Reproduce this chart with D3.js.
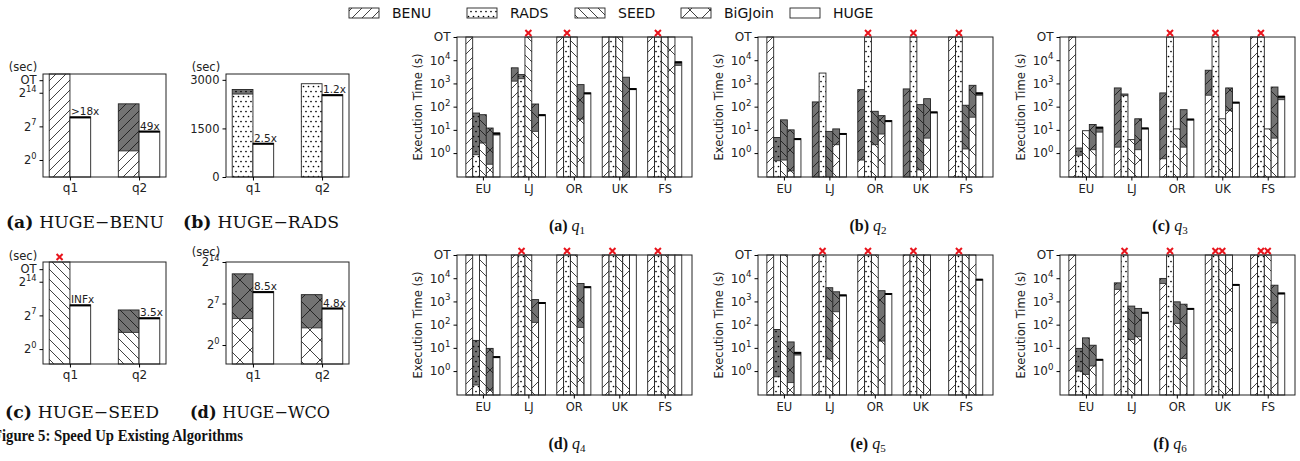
<!DOCTYPE html>
<html><head><meta charset="utf-8">
<script src="https://cdn.jsdelivr.net/npm/d3@7"></script>
<style>body{margin:0;background:#fff}svg{display:block}</style>
</head><body>
<svg id="c" width="1300" height="461"></svg>
<script>
// ---------------- DATA ----------------
const ALGOS = ["BENU", "RADS", "SEED", "BiGJoin", "HUGE"];
const DATASETS = ["EU", "LJ", "OR", "UK", "FS"];
const OT = 1e5;
const N = null;
const BIG_TICKS = [1, 10, 100, 1000, 10000, OT];
const BIG_TICK_LABELS = [["10","0"],["10","1"],["10","2"],["10","3"],["10","4"],["OT",""]];

// totals (top of bar) and lower (top of patterned part; gray above it), per dataset row, per algo column
const q1Total = [[OT,53,45,12,7.3],[4700,2400,OT,130,45],[OT,OT,OT,890,390],[OT,OT,OT,1850,600],[OT,OT,OT,OT,8500]];
const q1Lower = [[N,0.85,2.7,0.33,6],[1250,1600,N,8.6,N],[N,N,N,29,N],[N,N,N,0.01,N],[N,N,N,N,6000]];
const q1Fail = [["LJ","SEED"],["OR","RADS"],["FS","RADS"]];

const q2Total = [[OT,4.7,27,10,4.2],[160,2800,8.6,11,7],[540,OT,63,41,25],[580,OT,122,220,59],[OT,OT,115,830,390]];
const q2Lower = [[N,0.47,0.5,0.17,N],[0.01,N,0.01,2.3,N],[0.5,N,2.3,6.6,N],[0.01,N,0.19,4.4,N],[N,N,1.5,35,310]];
const q2Fail = [["OR","RADS"],["UK","RADS"],["FS","RADS"]];

const q3Total = [[OT,1.65,9.2,17,13],[640,350,3.8,30,12],[390,OT,11,74,29],[3700,OT,30,640,155],[OT,OT,11,700,280]];
const q3Lower = [[N,0.8,N,1.4,8],[1.8,300,N,1.4,N],[0.57,N,N,1.8,N],[310,N,N,67,N],[N,N,N,4.4,200]];
const q3Fail = [["OR","RADS"],["UK","RADS"],["FS","RADS"]];

const q4Total = [[OT,21,OT,9.5,4.2],[OT,OT,OT,1200,900],[OT,OT,OT,5900,4300],[OT,OT,OT,OT,OT],[OT,OT,OT,OT,OT]];
const q4Lower = [[N,0.25,N,0.15,N],[N,N,N,125,N],[N,N,N,76,N],[N,N,N,N,N],[N,N,N,N,N]];
const q4Fail = [["LJ","RADS"],["OR","RADS"],["UK","RADS"],["FS","RADS"]];

const q5Total = [[OT,62,OT,18,6.4],[OT,OT,3900,2600,1900],[OT,OT,OT,2900,2200],[OT,OT,OT,OT,N],[OT,OT,OT,OT,9000]];
const q5Lower = [[N,0.57,N,0.32,4.9],[N,N,3.3,360,N],[N,N,N,19.6,N],[N,N,N,N,N],[N,N,N,N,N]];
const q5Fail = [["LJ","RADS"],["OR","RADS"],["UK","RADS"],["FS","RADS"]];

const q6Total = [[OT,9.5,27,13,3.2],[6300,OT,630,500,340],[9800,OT,960,760,500],[OT,OT,OT,OT,5400],[OT,OT,OT,5000,2300]];
const q6Lower = [[N,1.0,0.72,1.65,N],[3300,N,23,30,N],[5900,N,113,3.5,N],[N,N,N,N,N],[N,N,N,120,N]];
const q6Fail = [["LJ","RADS"],["OR","RADS"],["UK","RADS"],["UK","SEED"],["FS","RADS"],["FS","SEED"]];

// small comparison panels
const SMALL_Q = ["q1", "q2"];
const benuVals = [OT, 3300], benuLower = [N, 3.7], hugeVsBenu = [500, 64], benuSpeed = [">18x", "49x"];
const radsVals = [2700, 2880], radsLower = [2560, N], hugeVsRads = [1040, 2540], radsSpeed = ["2.5x", "1.2x"];
const seedVals = [OT, 280], seedLower = [N, 11], hugeVsSeed = [580, 90], seedSpeed = ["INFx", "3.5x"];
const wcoVals = [4100, 360], wcoLower = [22, 7.4], hugeVsWco = [512, 75], wcoSpeed = ["8.5x", "4.8x"];
const seedFail = ["q1"];

// ---------------- DRAWING ----------------
const svg = d3.select("#c");
const defs = svg.append("defs");
const SANS = "DejaVu Sans, sans-serif";
const SERIF = "Liberation Serif, DejaVu Serif, serif";
const CAPSERIF = "DejaVu Serif, serif";
const GRAY = "#737373";
const EDGE = "#222";

function linePattern(id, s, dirs) {
  const p = defs.append("pattern").attr("id", id).attr("patternUnits", "userSpaceOnUse")
    .attr("width", s).attr("height", s);
  let d = "";
  if (dirs.includes("/")) d += `M0,${s} L${s},0 M${-s/2},${s/2} L${s/2},${-s/2} M${s/2},${1.5*s} L${1.5*s},${s/2} `;
  if (dirs.includes("\\")) d += `M0,0 L${s},${s} M${-s/2},${s/2} L${s/2},${1.5*s} M${s/2},${-s/2} L${1.5*s},${s/2} `;
  p.append("path").attr("d", d).attr("stroke", "#111").attr("stroke-width", 0.8).attr("fill", "none");
}
linePattern("p-BENU", 10, "/");
linePattern("p-SEED", 10, "\\");
linePattern("p-BiGJoin", 20, "/\\");
(function () {
  const u = 5;
  const p = defs.append("pattern").attr("id", "p-RADS").attr("patternUnits", "userSpaceOnUse")
    .attr("width", u).attr("height", 2 * u);
  [[0,0],[u,0],[0,2*u],[u,2*u],[u/2,u]].forEach(([cx, cy]) =>
    p.append("circle").attr("cx", cx + 1).attr("cy", cy + 1.5).attr("r", 0.85).attr("fill", "#000"));
})();
const PAT = {BENU: "url(#p-BENU)", RADS: "url(#p-RADS)", SEED: "url(#p-SEED)", BiGJoin: "url(#p-BiGJoin)", WCO: "url(#p-BiGJoin)", HUGE: null};

function drawBar(g, x, w, yTop, yBot, yLow, algo, isHuge) {
  g.append("rect").attr("x", x).attr("y", yTop).attr("width", w).attr("height", Math.max(0, yBot - yTop)).attr("fill", "#fff");
  if (yLow != null && yLow > yTop) {
    g.append("rect").attr("x", x).attr("y", yTop).attr("width", w).attr("height", Math.min(yLow, yBot) - yTop).attr("fill", GRAY);
  }
  if (PAT[algo]) g.append("rect").attr("x", x).attr("y", yTop).attr("width", w).attr("height", Math.max(0, yBot - yTop)).attr("fill", PAT[algo]);
  if (yLow != null && yLow > yTop && yLow < yBot) {
    g.append("line").attr("x1", x).attr("x2", x + w).attr("y1", yLow).attr("y2", yLow).attr("stroke", EDGE).attr("stroke-width", 0.8);
  }
  g.append("rect").attr("x", x).attr("y", yTop).attr("width", w).attr("height", Math.max(0, yBot - yTop))
    .attr("fill", "none").attr("stroke", EDGE).attr("stroke-width", 0.9);
  if (isHuge) g.append("line").attr("x1", x).attr("x2", x + w).attr("y1", yTop + 0.5).attr("y2", yTop + 0.5)
    .attr("stroke", "#000").attr("stroke-width", 2);
}

function redX(g, cx, cy) {
  const s = 3;
  g.append("path").attr("d", `M${cx-s},${cy-s}L${cx+s},${cy+s}M${cx-s},${cy+s}L${cx+s},${cy-s}`)
    .attr("stroke", "#e8141c").attr("stroke-width", 2).attr("fill", "none");
}

function supLabel(sel, base, sup, size) {
  sel.text(null);
  sel.append("tspan").text(base);
  if (sup) sel.append("tspan").attr("dy", -size * 0.45).attr("font-size", size * 0.72).text(sup);
}

const YMIN = Math.pow(10, -1.03);
const BW = 0.15;

function bigPanel(x0, y0, totals, lowers, fails, letter, qn) {
  const w = 235, h = 140;
  const g = svg.append("g");
  const xs = d3.scaleLinear().domain([-0.57, 4.6]).range([x0, x0 + w]);
  const ys = d3.scaleLog().domain([YMIN, OT]).range([y0 + h, y0]).clamp(true);
  const bars = [];
  DATASETS.forEach((ds, di) => ALGOS.forEach((al, ai) => {
    const v = totals[di][ai];
    if (v == null) return;
    bars.push({ds, di, al, ai, v, low: lowers[di][ai]});
  }));
  const bx = d => xs(d.di + (d.ai - 2.5) * BW);
  const bwid = xs(BW) - xs(0);
  g.append("g").selectAll("g.bar").data(bars).join("g").attr("class", "bar").each(function (d) {
    drawBar(d3.select(this), bx(d), bwid, ys(d.v), y0 + h, d.low != null ? ys(Math.max(d.low, YMIN)) : null, d.al, d.al === "HUGE" && d.v < OT);
  });
  g.append("rect").attr("x", x0).attr("y", y0).attr("width", w).attr("height", h)
    .attr("fill", "none").attr("stroke", "#222").attr("stroke-width", 1);
  const ay = g.append("g").attr("transform", `translate(${x0},0)`)
    .call(d3.axisLeft(ys).tickValues(BIG_TICKS).tickSize(3.5).tickPadding(3));
  ay.select(".domain").remove();
  ay.selectAll("text").attr("font-family", SANS).attr("font-size", 12).attr("fill", "#222")
    .each(function (d) { const i = BIG_TICKS.indexOf(d); supLabel(d3.select(this), BIG_TICK_LABELS[i][0], BIG_TICK_LABELS[i][1], 12); });
  const ax = g.append("g").attr("transform", `translate(0,${y0 + h})`)
    .call(d3.axisBottom(xs).tickValues(d3.range(DATASETS.length)).tickFormat(i => DATASETS[i]).tickSize(3.5).tickPadding(4));
  ax.select(".domain").remove();
  ax.selectAll("text").attr("font-family", SANS).attr("font-size", 11.5).attr("fill", "#222");
  g.append("text").attr("transform", `translate(${x0 - 35},${y0 + h / 2}) rotate(-90)`)
    .attr("text-anchor", "middle").attr("font-family", SANS).attr("font-size", 11.5).attr("fill", "#222")
    .text("Execution Time (s)");
  fails.forEach(([ds, al]) => {
    const di = DATASETS.indexOf(ds), ai = ALGOS.indexOf(al);
    redX(g, xs(di + (ai - 2.5) * BW) + bwid / 2, y0 - 4);
  });
  const cap = g.append("text").attr("x", x0 + 110).attr("y", y0 + 194).attr("text-anchor", "middle")
    .attr("font-family", SERIF).attr("font-size", 16).attr("fill", "#111");
  cap.append("tspan").attr("font-weight", "bold").text(`(${letter}) `);
  cap.append("tspan").attr("font-style", "italic").text("q");
  cap.append("tspan").attr("font-size", 11).attr("dy", 3).text(qn);
}

bigPanel(457, 37, q1Total, q1Lower, q1Fail, "a", "1");
bigPanel(758, 37, q2Total, q2Lower, q2Fail, "b", "2");
bigPanel(1060, 37, q3Total, q3Lower, q3Fail, "c", "3");
bigPanel(457, 255, q4Total, q4Lower, q4Fail, "d", "4");
bigPanel(758, 255, q5Total, q5Lower, q5Fail, "e", "5");
bigPanel(1060, 255, q6Total, q6Lower, q6Fail, "f", "6");

// ---------- small panels ----------
function smallPanel(cfg) {
  const {x0, y0, h, ys, ticks, algo, vals, lows, huge, speed, fails, capX, capY, capText, capW, secDy} = cfg;
  const w = 123;
  const g = svg.append("g");
  const xs = d3.scaleLinear().domain([-0.39, 1.39]).range([x0, x0 + w]);
  const bw = xs(0.3) - xs(0);
  const top = ys.domain()[1];
  const recs = SMALL_Q.map((q, i) => ({q, i, v: vals[i], low: lows[i], hv: huge[i], lab: speed[i]}));
  g.selectAll("g.pair").data(recs).join("g").attr("class", "pair").each(function (d) {
    const s = d3.select(this);
    const vTop = d.v >= OT ? ys(top) : ys(d.v);
    drawBar(s, xs(d.i - 0.3), bw, vTop, y0 + h, d.low != null ? ys(d.low) : null, algo, false);
    drawBar(s, xs(d.i), bw, ys(d.hv), y0 + h, null, "HUGE", true);
    s.append("text").attr("x", xs(d.i) + 1).attr("y", ys(d.hv) - 1.5).attr("font-family", SANS)
      .attr("font-size", 10.5).attr("fill", "#222").text(d.lab);
  });
  g.append("rect").attr("x", x0).attr("y", y0).attr("width", w).attr("height", h)
    .attr("fill", "none").attr("stroke", "#222").attr("stroke-width", 1);
  const ay = g.append("g").attr("transform", `translate(${x0},0)`)
    .call(d3.axisLeft(ys).tickValues(ticks.map(t => t[0])).tickSize(3.5).tickPadding(3));
  ay.select(".domain").remove();
  ay.selectAll("text").attr("font-family", SANS).attr("font-size", 11.5).attr("fill", "#222")
    .each(function (d, i) { supLabel(d3.select(this), ticks[i][1], ticks[i][2], 11.5); });
  const ax = g.append("g").attr("transform", `translate(0,${y0 + h})`)
    .call(d3.axisBottom(xs).tickValues([0, 1]).tickFormat(i => SMALL_Q[i]).tickSize(3.5).tickPadding(3));
  ax.select(".domain").remove();
  ax.selectAll("text").attr("font-family", SANS).attr("font-size", 12).attr("fill", "#222");
  g.append("text").attr("x", x0 - 20).attr("y", y0 - secDy).attr("text-anchor", "middle")
    .attr("font-family", SANS).attr("font-size", 11.5).attr("fill", "#222").text("(sec)");
  (fails || []).forEach(q => { const i = SMALL_Q.indexOf(q); redX(g, xs(i - 0.3) + bw / 2, y0 - 5); });
  const cap = g.append("text").attr("x", capX).attr("y", capY).attr("text-anchor", "middle")
    .attr("font-family", CAPSERIF).attr("font-size", 16.5).attr("fill", "#111")
    .attr("textLength", capW).attr("lengthAdjust", "spacingAndGlyphs");
  cap.append("tspan").attr("font-weight", "bold").text(capText[0] + " ");
  cap.append("tspan").text(capText[1]);
}

const LOG2_TICKS = [[Math.pow(2, 0), "2", "0"], [Math.pow(2, 7), "2", "7"], [Math.pow(2, 14), "2", "14"], [OT, "OT", ""]];
smallPanel({x0: 43, y0: 74, h: 103, secDy: 3,
  ys: d3.scaleLog().base(2).domain([Math.pow(2, -3.54), Math.pow(2, 17.9)]).range([177, 74]),
  ticks: LOG2_TICKS, algo: "BENU", vals: benuVals, lows: benuLower, huge: hugeVsBenu, speed: benuSpeed,
  capX: 85, capY: 228, capW: 158, capText: ["(a)", "HUGE\u2212BENU"]});
smallPanel({x0: 226, y0: 74, h: 103, secDy: 3,
  ys: d3.scaleLinear().domain([0, 3180]).range([177, 74]),
  ticks: [[0, "0", ""], [1500, "1500", ""], [3000, "3000", ""]], algo: "RADS", vals: radsVals, lows: radsLower, huge: hugeVsRads, speed: radsSpeed,
  capX: 261, capY: 228, capW: 156, capText: ["(b)", "HUGE\u2212RADS"]});
smallPanel({x0: 43, y0: 262, h: 102, secDy: 2,
  ys: d3.scaleLog().base(2).domain([Math.pow(2, -3.1), Math.pow(2, 18.1)]).range([364, 262]),
  ticks: LOG2_TICKS, algo: "SEED", vals: seedVals, lows: seedLower, huge: hugeVsSeed, speed: seedSpeed, fails: seedFail,
  capX: 82, capY: 418, capW: 154, capText: ["(c)", "HUGE\u2212SEED"]});
smallPanel({x0: 226, y0: 262, h: 102, secDy: 6,
  ys: d3.scaleLog().base(2).domain([Math.pow(2, -3.2), Math.pow(2, 14)]).range([364, 262]),
  ticks: LOG2_TICKS.slice(0, 3), algo: "WCO", vals: wcoVals, lows: wcoLower, huge: hugeVsWco, speed: wcoSpeed,
  capX: 260, capY: 418, capW: 140, capText: ["(d)", "HUGE\u2212WCO"]});

svg.append("text").attr("x", -7).attr("y", 441)
  .attr("font-family", SERIF).attr("font-weight", "bold").attr("font-size", 16).attr("fill", "#111")
  .attr("textLength", 250).attr("lengthAdjust", "spacingAndGlyphs")
  .text("Figure 5: Speed Up Existing Algorithms");

// ---------- legend ----------
const legX = [349, 467, 575, 681, 790];
const lg = svg.append("g");
lg.selectAll("g.item").data(ALGOS).join("g").attr("class", "item").each(function (al, i) {
  const s = d3.select(this);
  s.append("rect").attr("x", legX[i]).attr("y", 8).attr("width", 30).attr("height", 10).attr("fill", "#fff");
  if (PAT[al]) s.append("rect").attr("x", legX[i]).attr("y", 8).attr("width", 30).attr("height", 10).attr("fill", PAT[al]);
  s.append("rect").attr("x", legX[i]).attr("y", 8).attr("width", 30).attr("height", 10).attr("fill", "none").attr("stroke", "#222").attr("stroke-width", 0.9);
  s.append("text").attr("x", legX[i] + 43).attr("y", 18).attr("font-family", SANS).attr("font-size", 14).attr("fill", "#111").text(al);
});
</script>
</body></html>
